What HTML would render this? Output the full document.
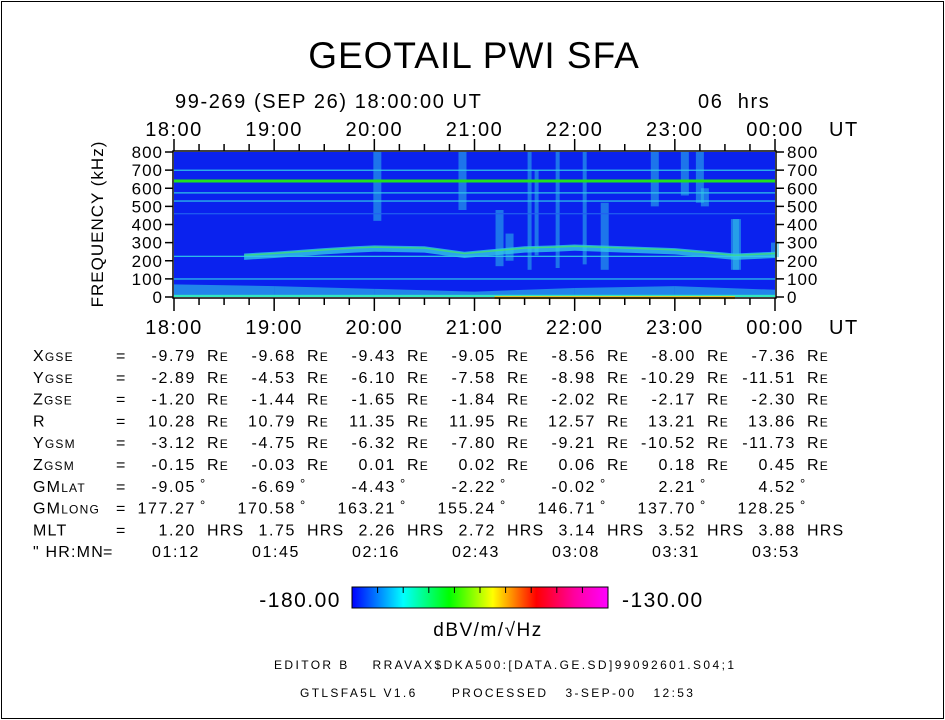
<!DOCTYPE html>
<html><head><meta charset="utf-8"><style>
body{margin:0;background:#fff;}
#wrap{position:relative;width:945px;height:720px;overflow:hidden;}
svg text{font-family:"Liberation Sans",sans-serif;fill:#000;white-space:pre;}
</style></head><body>
<div id="wrap">
<svg id="svg" width="945" height="720" viewBox="0 0 945 720">
<rect x="1.5" y="1.5" width="942" height="717" fill="none" stroke="#000" stroke-width="1"/>
<text x="474" y="68" font-size="37" text-anchor="middle" letter-spacing="1">GEOTAIL PWI SFA</text>
<text x="175" y="108" font-size="20" letter-spacing="1.6">99-269 (SEP 26) 18:00:00 UT</text>
<text x="698" y="108" font-size="20" letter-spacing="1.6">06  hrs</text>
<g id="spec"></g>
<g id="axes"></g>
<g id="table"></g>
<g>
<defs><linearGradient id="cb" x1="0" x2="1"><stop offset="0" stop-color="#0000ff"/><stop offset="0.2" stop-color="#00ffff"/><stop offset="0.38" stop-color="#00ff00"/><stop offset="0.55" stop-color="#ffff00"/><stop offset="0.72" stop-color="#ff0000"/><stop offset="0.87" stop-color="#ff00a0"/><stop offset="1" stop-color="#ff00ff"/></linearGradient></defs>
<rect x="352" y="587" width="256" height="21" fill="url(#cb)" stroke="#000"/>
<g id="cbticks"></g>
<text x="341" y="607" font-size="21" text-anchor="end" letter-spacing="1.5">-180.00</text>
<text x="622" y="607" font-size="21" letter-spacing="1.5">-130.00</text>
<text x="488" y="636" font-size="19" text-anchor="middle" letter-spacing="1.5">dBV/m/√Hz</text>
</g>
<text x="274" y="669" font-size="12" textLength="460">EDITOR B    RRAVAX$DKA500:[DATA.GE.SD]99092601.S04;1</text>
<text x="300" y="697" font-size="12" textLength="393">GTLSFA5L V1.6      PROCESSED   3-SEP-00   12:53</text>
</svg></div>
<script>
const NS="http://www.w3.org/2000/svg";
const hourLabels=["18:00","19:00","20:00","21:00","22:00","23:00","00:00"];
const freqTicks=[0,100,200,300,400,500,600,700,800];
const lineFreqs=[640,575,700,530,460,225,100];
const lineKind=["g","c","c","c","d","c","c"];
const bandT=[0.7,1.0,1.5,1.8,2.0,2.5,2.7,2.9,3.2,3.5,3.8,4.0,4.5,5.0,5.3,5.6,6.0];
const bandF=[225,235,255,265,270,265,250,235,250,265,270,275,265,255,240,225,235];
const burstT=[2.03,2.88,3.25,3.35,3.55,3.62,3.83,4.1,4.3,4.8,5.1,5.25,5.3,5.6,5.62,6.0];
const burstTop=[800,800,480,350,800,700,800,800,520,800,800,800,600,430,430,300];
const burstBot=[420,480,170,200,150,230,160,180,150,500,560,520,500,150,150,220];
const lowT=[0,1,2,3,4,5,6];
const lowTop=[70,60,45,30,50,60,40];

const X0=174,X1=775,Y0=297,Y1=152;
const xs=h=>X0+(X1-X0)*h/6;
const ys=f=>Y0-(Y0-Y1)*f/800;
function el(tag,attrs,parent){const e=document.createElementNS(NS,tag);for(const k in attrs)e.setAttribute(k,attrs[k]);parent.appendChild(e);return e;}

const spec=document.getElementById("spec");
let bg=el("rect",{x:X0,y:Y1,width:X1-X0,height:Y0-Y1,fill:"#0a22ee"},spec);


for(let i=0;i<lowT.length-1;i++){
  const p=`${xs(lowT[i])},${ys(0)} ${xs(lowT[i])},${ys(lowTop[i])} ${xs(lowT[i+1])},${ys(lowTop[i+1])} ${xs(lowT[i+1])},${ys(0)}`;
  const e=el("polygon",{points:p,fill:"#30c8e8",opacity:0.6},spec);
  
  
}
const bf=el("rect",{x:X0,y:ys(12),width:X1-X0,height:ys(0)-ys(12),fill:"#30e8c0"},spec);


const bl=el("rect",{x:xs(3.2),y:ys(5),width:xs(5.6)-xs(3.2),height:3,fill:"#f0c020"},spec);


for(let i=0;i<burstT.length;i++){
  const w=(burstTop[i]-burstBot[i])>400?4:8;
  const e=el("rect",{x:xs(burstT[i])-w/2,y:ys(burstTop[i]),width:w,height:ys(burstBot[i])-ys(burstTop[i]),fill:"#30c8e8",opacity:0.5},spec);
  
  
}
let pts=bandT.map((t,i)=>`${xs(t)},${ys(bandF[i]+15)}`).concat(bandT.slice().reverse().map((t,j)=>`${xs(t)},${ys(bandF[bandT.length-1-j]-20)}`)).join(" ");
const band=el("polygon",{points:pts,fill:"#30c8e8",opacity:0.8},spec);


let pts2=bandT.map((t,i)=>`${xs(t)},${ys(bandF[i]+5)}`).join(" ");
const bc=el("polyline",{points:pts2,fill:"none",stroke:"#40e070",'stroke-width':1.5,opacity:0.8},spec);


for(let i=0;i<lineFreqs.length;i++){
  const c=lineKind[i]=="g"?"#20e020":(lineKind[i]=="c"?"#30c8e8":"#2060f0");
  const e=el("rect",{x:X0,y:ys(lineFreqs[i])-(lineKind[i]=="g"?1.5:0.5),width:X1-X0,height:lineKind[i]=="g"?3:1.2,fill:c},spec);
  
  
}

const ax=document.getElementById("axes");
const fr=el("rect",{x:X0-1,y:Y1-1,width:X1-X0+2,height:Y0-Y1+2,fill:"none",stroke:"#000",'stroke-width':1.5},ax);


for(let m=0;m<=24;m++){
  const x=xs(m/4),big=m%4==0;
  el("line",{x1:x,x2:x,y1:Y1-1,y2:Y1-(big?13:8),stroke:"#000",'stroke-width':1.5},ax);
  el("line",{x1:x,x2:x,y1:Y0+1,y2:Y0+(big?14:8),stroke:"#000",'stroke-width':1.5},ax);
}
hourLabels.forEach((l,i)=>{
  const t=el("text",{x:xs(i),y:136,'font-size':20,'text-anchor':'middle','letter-spacing':1.5},ax);t.textContent=l;
  
  
  const b=el("text",{x:xs(i),y:334,'font-size':20,'text-anchor':'middle','letter-spacing':1.5},ax);b.textContent=l;
  
  
});
[136,334].forEach(y=>{const u=el("text",{x:829,y:y,'font-size':20,'letter-spacing':1.5},ax);u.textContent="UT";

});
freqTicks.forEach(f=>{
  const y=ys(f);
  el("line",{x1:X0-1,x2:X0-9,y1:y,y2:y,stroke:"#000",'stroke-width':1.5},ax);
  el("line",{x1:X1+1,x2:X1+9,y1:y,y2:y,stroke:"#000",'stroke-width':1.5},ax);
  const a=el("text",{x:163,y:y+6,'font-size':17,'text-anchor':'end','letter-spacing':1},ax);a.textContent=f;
  
  
  const b=el("text",{x:787,y:y+6,'font-size':17,'letter-spacing':1},ax);b.textContent=f;
  
  
});
const yt=el("text",{x:103,y:224,'font-size':17,'text-anchor':'middle','letter-spacing':1,transform:'rotate(-90 103 224)'},ax);
yt.textContent="FREQUENCY (kHz)";



const cbt=document.getElementById("cbticks");
for(let i=1;i<10;i++){const x=352+25.6*i;el("line",{x1:x,x2:x,y1:587,y2:593,stroke:"#000"},cbt);}

const rowNames=["X<tspan font-size='12'>GSE</tspan>","Y<tspan font-size='12'>GSE</tspan>","Z<tspan font-size='12'>GSE</tspan>","R","Y<tspan font-size='12'>GSM</tspan>","Z<tspan font-size='12'>GSM</tspan>","GM<tspan font-size='12'>LAT</tspan>","GM<tspan font-size='12'>LONG</tspan>","MLT","\" HR:MN"];
const units=["RE","RE","RE","RE","RE","RE","°","°","HRS",""];
const rows=[
["-9.79","-9.68","-9.43","-9.05","-8.56","-8.00","-7.36"],
["-2.89","-4.53","-6.10","-7.58","-8.98","-10.29","-11.51"],
["-1.20","-1.44","-1.65","-1.84","-2.02","-2.17","-2.30"],
["10.28","10.79","11.35","11.95","12.57","13.21","13.86"],
["-3.12","-4.75","-6.32","-7.80","-9.21","-10.52","-11.73"],
["-0.15","-0.03","0.01","0.02","0.06","0.18","0.45"],
["-9.05","-6.69","-4.43","-2.22","-0.02","2.21","4.52"],
["177.27","170.58","163.21","155.24","146.71","137.70","128.25"],
["1.20","1.75","2.26","2.72","3.14","3.52","3.88"],
["01:12","01:45","02:16","02:43","03:08","03:31","03:53"]];
const tb=document.getElementById("table");
rows.forEach((r,i)=>{
  const y=361+21.8*i;
  const n=el("text",{x:33,y:y,'font-size':16,'letter-spacing':1.2},tb);n.innerHTML=rowNames[i];
  
  
  const eq=el("text",{x:i==9?103:116,y:y,'font-size':16},tb);eq.textContent="=";
  r.forEach((v,j)=>{
    const xe=i==9?200+100*j:196+100*j;
    const t=el("text",{x:xe,y:y,'font-size':16,'text-anchor':'end','letter-spacing':1.6},tb);t.textContent=v;
    
    
    if(units[i]){
      const u=el("text",{x:xe+(units[i]=="°"?4:11),y:units[i]=="°"?y-4:y,'font-size':units[i]=="°"?13:16,'letter-spacing':1.2},tb);
      u.innerHTML=units[i]=="RE"?"R<tspan font-size='12'>E</tspan>":units[i];
      
      
    }
  });
});
</script>
</body></html>
